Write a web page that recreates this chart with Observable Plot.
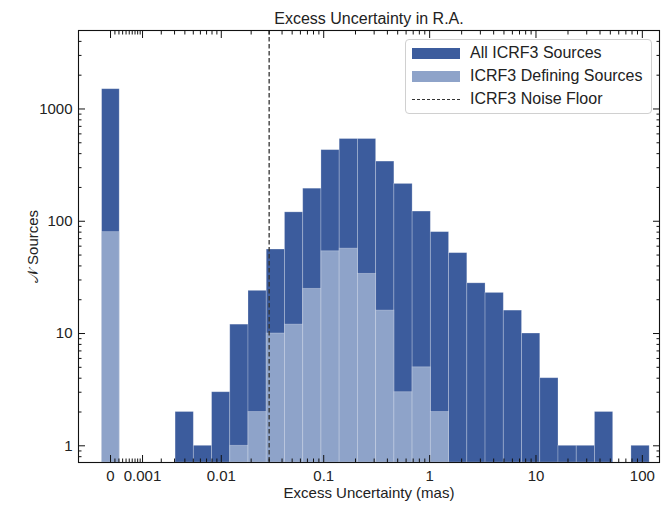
<!DOCTYPE html>
<html>
<head>
<meta charset="utf-8">
<script src="https://cdn.jsdelivr.net/npm/d3@7"></script>
<script src="https://cdn.jsdelivr.net/npm/@observablehq/plot@0.6"></script>
<style>
  body { margin: 0; background: #fff; font-family: "Liberation Sans", Arial, sans-serif; }
  #wrap { position: relative; width: 671px; height: 508px; }
  .legend { position: absolute; left: 405px; top: 39px; width: 247px; height: 75px;
    border: 1px solid #d0d0d0; border-radius: 4px; background: rgba(255,255,255,0.85);
    box-sizing: border-box; font-size: 16px; color: #222; }
  .row { position: absolute; left: 6px; height: 20px; display: flex; align-items: center; }
  .sw { width: 48px; height: 11px; margin-right: 10px; }
  .dash { width: 48px; height: 0; border-top: 1.3px dashed #333; margin-right: 10px; }
</style>
</head>
<body>
<div id="wrap"></div>
<script>
// ---- data ----
const binEdges = [0.00309, 0.00507, 0.00801, 0.01236, 0.01883, 0.02843, 0.04267, 0.06381, 0.09518,
  0.1417, 0.2108, 0.3133, 0.4654, 0.6912, 1.026, 1.523, 2.261, 3.356, 4.981, 7.392, 10.97,
  16.28, 24.16, 35.85, 53.2, 78.96, 117.2];
const allCounts = [2, 1, 3, 12, 24, 56, 120, 195, 430, 540, 540, 340, 215, 122, 80, 52, 28, 23, 16, 10, 4, 1, 1, 2, 0, 1];
const definingCounts = [0, 0, 0, 1, 2, 10, 12, 25, 54, 57, 34, 16, 3, 5, 2, 0, 0, 0, 0, 0, 0, 0, 0, 0, 0, 0];
const zeroBinEdges = [-0.0002, 0.00022];
const zeroAll = 1500;
const zeroDefining = 80;
const noiseFloor = 0.03;

const xMajor = [0, 0.001, 0.01, 0.1, 1, 10, 100];
const xMinor = [0.0001, 0.0002, 0.0003, 0.0004, 0.0005, 0.0006, 0.0007, 0.0008, 0.0009,
  0.002, 0.003, 0.004, 0.005, 0.006, 0.007, 0.008, 0.009,
  0.02, 0.03, 0.04, 0.05, 0.06, 0.07, 0.08, 0.09,
  0.2, 0.3, 0.4, 0.5, 0.6, 0.7, 0.8, 0.9,
  2, 3, 4, 5, 6, 7, 8, 9, 20, 30, 40, 50, 60, 70, 80, 90];
const yMajor = [1, 10, 100, 1000];
const yMinor = [0.8, 0.9, 2, 3, 4, 5, 6, 7, 8, 9, 20, 30, 40, 50, 60, 70, 80, 90,
  200, 300, 400, 500, 600, 700, 800, 900, 2000, 3000, 4000, 5000];
const xDomain = [-0.001, 145];
const yDomain = [0.71, 5000];

const titleText = "Excess Uncertainty in R.A.";
const xLabel = "Excess Uncertainty (mas)";
const yLabel = "𝒩 Sources";
const legendLabels = ["All ICRF3 Sources", "ICRF3 Defining Sources", "ICRF3 Noise Floor"];

const dark = "#3c5c9d";
const light = "#8ea3c9";

// ---- build tables ----
const rows = allCounts.map((c, i) => ({x1: binEdges[i], x2: binEdges[i + 1], all: c, def: definingCounts[i]}));
rows.unshift({x1: zeroBinEdges[0], x2: zeroBinEdges[1], all: zeroAll, def: zeroDefining});
const base = yDomain[0];
const blank = () => "";
const fmt = d => String(d);

const chart = Plot.plot({
  width: 671, height: 508,
  marginLeft: 78, marginRight: 12, marginTop: 30, marginBottom: 46,
  style: {fontFamily: "'Liberation Sans', Arial, sans-serif", fontSize: "15px", color: "#222", background: "white", overflow: "visible"},
  x: {type: "symlog", constant: 0.001, domain: xDomain},
  y: {type: "log", domain: yDomain},
  marks: [
    Plot.rect(rows.filter(d => d.all > 0), {x1: "x1", x2: "x2", y1: () => base, y2: "all", fill: dark, stroke: "white", strokeOpacity: 0.3, strokeWidth: 0.8, clip: true}),
    Plot.rect(rows.filter(d => d.def > 0), {x1: "x1", x2: "x2", y1: () => base, y2: "def", fill: light, stroke: "white", strokeOpacity: 0.35, strokeWidth: 0.8, clip: true}),
    Plot.ruleX([noiseFloor], {stroke: "#333", strokeDasharray: "4.5,2.5", strokeWidth: 1.3}),
    Plot.frame({stroke: "#111", strokeWidth: 1.1}),
    // bottom axis
    Plot.axisX(xMajor, {anchor: "bottom", tickSize: 0, tickPadding: 8, tickFormat: fmt, label: null, fontSize: 15}),
    Plot.axisX(xMajor, {anchor: "bottom", tickSize: -7, tickFormat: blank, label: null, stroke: "#111"}),
    Plot.axisX(xMinor, {anchor: "bottom", tickSize: -3.5, tickFormat: blank, label: null, stroke: "#111"}),
    // top axis
    Plot.axisX(xMajor, {anchor: "top", tickSize: -7, tickFormat: blank, label: null, stroke: "#111"}),
    Plot.axisX(xMinor, {anchor: "top", tickSize: -3.5, tickFormat: blank, label: null, stroke: "#111"}),
    // left axis
    Plot.axisY(yMajor, {anchor: "left", tickSize: 0, tickPadding: 6, tickFormat: fmt, label: null, fontSize: 15}),
    Plot.axisY(yMajor, {anchor: "left", tickSize: -7, tickFormat: blank, label: null, stroke: "#111"}),
    Plot.axisY(yMinor, {anchor: "left", tickSize: -3.5, tickFormat: blank, label: null, stroke: "#111"}),
    // right axis
    Plot.axisY(yMajor, {anchor: "right", tickSize: -7, tickFormat: blank, label: null, stroke: "#111"}),
    Plot.axisY(yMinor, {anchor: "right", tickSize: -3.5, tickFormat: blank, label: null, stroke: "#111"}),
    // titles
    Plot.text([titleText], {frameAnchor: "top", dy: -18, fontSize: 16, fill: "#222"}),
    Plot.text([xLabel], {frameAnchor: "bottom", dy: 35, fontSize: 15, fill: "#222"}),
    Plot.text([yLabel], {frameAnchor: "left", rotate: -90, dx: -45, textAnchor: "middle", fontSize: 15, fill: "#222"})
  ]
});

const wrap = document.getElementById("wrap");
wrap.appendChild(chart);

const leg = document.createElement("div");
leg.className = "legend";
const swatches = [`<div class="sw" style="background:${dark}"></div>`, `<div class="sw" style="background:${light}"></div>`, `<div class="dash"></div>`];
legendLabels.forEach((lab, i) => {
  const r = document.createElement("div");
  r.className = "row";
  r.style.top = (3 + i * 23) + "px";
  r.innerHTML = swatches[i] + `<span>${lab}</span>`;
  leg.appendChild(r);
});
wrap.appendChild(leg);
</script>
</body>
</html>
